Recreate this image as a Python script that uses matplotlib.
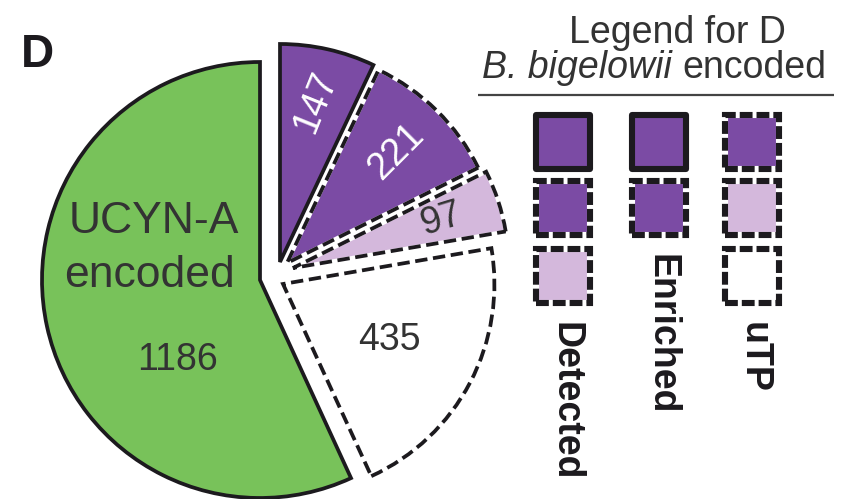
import matplotlib
matplotlib.use("Agg")
import matplotlib.pyplot as plt
from matplotlib.patches import Wedge, Rectangle
import numpy as np

plt.rcParams['font.family'] = ['Liberation Sans', 'DejaVu Sans']

# Protein counts per origin / evidence class
categories = ["Enriched", "Enriched + uTP", "Detected + uTP", "uTP only", "UCYN-A encoded"]
counts = [147, 221, 97, 435, 1186]
legend_columns = ["Detected", "Enriched", "uTP"]
# which slice styles belong to each legend column
legend_members = [[0, 1, 2], [0, 1], [1, 2, 3]]

GREEN = "#78c25a"
DARK = "#7b4ba4"
LIGHT = "#d4b8dc"
WHITE = "#ffffff"
INK = "#1c1a1e"
TEXT = "#333333"

fills = [DARK, DARK, LIGHT, WHITE, GREEN]
dashed = [False, True, True, True, False]

W, H = 851, 499
fig = plt.figure(figsize=(W / 100, H / 100), dpi=100)
ax = fig.add_axes([0, 0, 1, 1])

S = 218.0            # pixels per unit radius
CX, CY = 260, 280    # pie centre in pixels


def P(x, y):
    return ((x - CX) / S, (CY - y) / S)


wedges, _ = ax.pie(counts, colors=fills, startangle=90, counterclock=False,
                   radius=1.0, wedgeprops=dict(linewidth=0))
ax.set_xlim(-CX / S, (W - CX) / S)
ax.set_ylim(-(H - CY) / S, CY / S)
ax.set_aspect('equal')
ax.axis('off')

# pull the B. bigelowii slices away from the UCYN-A slice
shifts_px = [(20, 18), (27, 17), (33, 12), (23, -4)]
radii = [1.0, 0.98, 0.99, 0.97]
for w, (dx, dy), r in zip(wedges[:4], shifts_px, radii):
    w.set_center((dx / S, dy / S))
    w.set_radius(r)

LW = 2.7
DASH = (0, (3.3, 1.5))
for w, d in zip(wedges, dashed):
    if d:
        ax.add_patch(Wedge(w.center, w.r, w.theta1, w.theta2, fill=False,
                           ec='white', lw=LW, zorder=3))
        ax.add_patch(Wedge(w.center, w.r, w.theta1, w.theta2, fill=False,
                           ec=INK, lw=LW, ls=DASH, zorder=4))
    else:
        w.set_edgecolor(INK)
        w.set_linewidth(LW)

# slice values
label_frac = [0.75, 0.73, 0.72, 0.57]
label_rot = [68, 45, 17, 0]
label_col = ['white', 'white', TEXT, TEXT]
for w, v, f, rot, c in zip(wedges[:4], counts[:4], label_frac, label_rot, label_col):
    mid = np.deg2rad((w.theta1 + w.theta2) / 2)
    x = w.center[0] + f * w.r * np.cos(mid)
    y = w.center[1] + f * w.r * np.sin(mid)
    ax.text(x, y, str(v), rotation=rot, rotation_mode='anchor', ha='center',
            va='center', fontsize=27, color=c, zorder=6)

ax.text(*P(154, 233), "UCYN-A", ha='center', va='baseline', fontsize=32, color=TEXT)
ax.text(*P(149, 287), "encoded", ha='center', va='baseline', fontsize=32, color=TEXT)
ax.text(*P(177, 370), str(counts[4]), ha='center', va='baseline', fontsize=27, color=TEXT)

# panel letter
ax.text(*P(21, 67), "D", ha='left', va='baseline', fontsize=33, fontweight='bold',
        color=INK, family=['Liberation Sans Narrow', 'Liberation Sans'])

# legend header
ax.text(*P(677, 43), "Legend for D", ha='center', va='baseline', fontsize=27, color=TEXT)
ax.text(*P(672, 78), "B. bigelowii", ha='right', va='baseline', fontsize=27,
        style='italic', color=TEXT)
ax.text(*P(682, 78), "encoded", ha='left', va='baseline', fontsize=27, color=TEXT)
(x0, y0), (x1, _) = P(478, 95), P(834, 95)
ax.plot([x0, x1], [y0, y0], color='#444444', lw=1.6, solid_capstyle='butt')

# legend keys
col_x = [563, 659, 752]
row_y = [142, 208, 276]
side = 54 / S
KLW = 4.4
KDASH = (0, (2.1, 0.65))
for cx, members, name in zip(col_x, legend_members, legend_columns):
    for row, idx in enumerate(members):
        x, y = P(cx, row_y[row])
        xy = (x - side / 2, y - side / 2)
        if dashed[idx]:
            ax.add_patch(Rectangle(xy, side, side, fc=fills[idx], ec='white', lw=KLW))
            ax.add_patch(Rectangle(xy, side, side, fill=False, ec=INK, lw=KLW,
                                   ls=KDASH, joinstyle='miter'))
        else:
            ax.add_patch(Rectangle(xy, side, side, fc=fills[idx], ec=INK, lw=KLW,
                                   joinstyle='round'))
    top = row_y[len(members) - 1] + 30 + 16
    ax.text(*P(cx + 2, top), name, rotation=270, ha='center', va='top',
            fontsize=27, fontweight='bold', color=INK)

fig.savefig("out.png", dpi=100)
